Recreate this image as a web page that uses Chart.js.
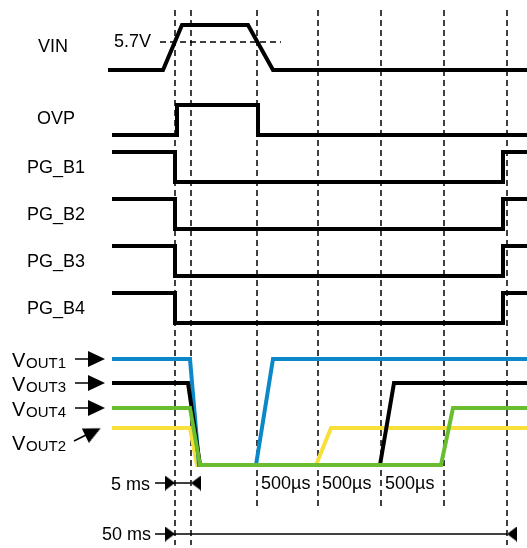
<!DOCTYPE html>
<html>
<head>
<meta charset="utf-8">
<script src="https://cdn.jsdelivr.net/npm/chart.js@4.4.1/dist/chart.umd.min.js"></script>
<style>
  html, body { margin: 0; padding: 0; background: #fff; }
  #wrap { width: 527px; height: 548px; }
</style>
</head>
<body>
<div id="wrap"><canvas id="timing" width="527" height="548"></canvas></div>
<script>
// time axis is schematic (same units as the drawing width)
const guideTimes = [175, 191, 257, 318, 381, 444, 507]
const longGuides = [175, 191, 507]

const vinTime = [108, 163, 182, 248, 273, 527]
const vinLevel = [0, 0, 1, 1, 0, 0]
const vinThreshold = 0.62
const ovpTime = [112, 177, 177, 258, 258, 527]
const ovpLevel = [0, 0, 1, 1, 0, 0]
const pgTime = [112, 175, 175, 503, 503, 527]
const pgLevel = [1, 1, 0, 0, 1, 1]

const vout1Time = [112, 190, 199, 256, 273, 527]
const vout3Time = [112, 188, 200, 380, 394, 527]
const vout4Time = [112, 190, 200, 441, 453, 527]
const vout2Time = [112, 190, 197, 316, 331, 527]
const voutLevel = [1, 1, 0, 0, 1, 1]

const pgLabels = ['PG_B1', 'PG_B2', 'PG_B3', 'PG_B4']
const voutNames = ['OUT1', 'OUT3', 'OUT4', 'OUT2']
const gapLabels = ['500µs', '500µs', '500µs']

// row layout: [low y, high y]
const rows = {
    vin: [70, 25],
    ovp: [135, 105],
    pg: [[182, 152], [229, 199], [276, 246], [323, 293]],
    vout: [[465, 359], [465, 383], [465, 408], [465, 428]]
}
const voutColors = ['#0a88c8', '#000000', '#69bd2f', '#f7e03a']

const toPts = (times, levels, row) => times.map((t, i) => ({x: t, y: row[0] + levels[i] * (row[1] - row[0])}))

function arrowHead(len, h) {
    const c = document.createElement('canvas')
    c.width = len; c.height = h
    const g = c.getContext('2d')
    g.fillStyle = '#000'
    g.beginPath()
    g.moveTo(0, 0); g.lineTo(len, h / 2); g.lineTo(0, h); g.closePath()
    g.fill()
    return c
}
const smallHead = arrowHead(10, 15)
const bigHead = arrowHead(17, 16)

const datasets = []
const sig = (data, color, order) => ({
    data: data, showLine: true, borderColor: color, borderWidth: 4,
    pointRadius: 0, tension: 0, borderJoinStyle: 'miter', borderCapStyle: 'butt', order: order
})
const thin = (data, dash, order) => ({
    data: data, showLine: true, borderColor: '#000', borderWidth: 1.5, borderDash: dash,
    pointRadius: 0, tension: 0, order: order
})
const head = (x, y, img, rot) => ({
    data: [{x: x, y: y}], showLine: false, pointStyle: img, rotation: rot,
    pointRadius: 8, borderWidth: 0, order: 0
})

// guides
guideTimes.forEach(t => {
    const bottom = longGuides.includes(t) ? 545 : 507
    datasets.push(thin([{x: t, y: 10}, {x: t, y: bottom}], [6, 4], 20))
})
datasets.push(thin([{x: 160, y: rows.vin[0] + vinThreshold * (rows.vin[1] - rows.vin[0])},
                    {x: 281, y: rows.vin[0] + vinThreshold * (rows.vin[1] - rows.vin[0])}], [6, 4], 20))

datasets.push(sig(toPts(vinTime, vinLevel, rows.vin), '#000', 5))
datasets.push(sig(toPts(ovpTime, ovpLevel, rows.ovp), '#000', 5))
rows.pg.forEach(r => datasets.push(sig(toPts(pgTime, pgLevel, r), '#000', 5)))

const voutTimes = [vout1Time, vout3Time, vout4Time, vout2Time]
const voutOrder = [8, 7, 4, 9]
voutTimes.forEach((t, i) => datasets.push(sig(toPts(t, voutLevel, rows.vout[i]), voutColors[i], voutOrder[i])))

// label arrows for VOUT
rows.vout.forEach((r, i) => {
    if (i < 3) {
        datasets.push(thin([{x: 75, y: r[1]}, {x: 95, y: r[1]}], [], 1))
        datasets.push(head(96.5, r[1], bigHead, 0))
    } else {
        datasets.push(thin([{x: 74, y: 441}, {x: 94, y: 431}], [], 1))
        datasets.push(head(93, 432, bigHead, -26))
    }
})

// 5 ms and 50 ms dimension arrows
datasets.push(thin([{x: 155, y: 483}, {x: 191, y: 483}], [], 1))
datasets.push(head(170, 483, smallHead, 0))
datasets.push(head(196, 483, smallHead, 180))
datasets.push(thin([{x: 155, y: 534}, {x: 507, y: 534}], [], 1))
datasets.push(head(170, 534, smallHead, 0))
datasets.push(head(512, 534, smallHead, 180))

const labelPlugin = {
    id: 'labels',
    afterDraw(chart) {
        const ctx = chart.ctx
        const xs = chart.scales.x, ys = chart.scales.y
        const txt = (s, x, y, size) => {
            ctx.font = size + 'px "Liberation Sans", Arial, sans-serif'
            ctx.fillText(s, xs.getPixelForValue(x), ys.getPixelForValue(y))
        }
        ctx.save()
        ctx.fillStyle = '#000'
        ctx.textBaseline = 'alphabetic'
        txt('VIN', 38, 52, 18)
        txt('5.7V', 114, 47, 18)
        txt('OVP', 37, 124, 18)
        pgLabels.forEach((s, i) => txt(s, 27, rows.pg[i][0] - 9, 18))
        const voutBase = [367, 391, 416, 450]
        voutNames.forEach((s, i) => {
            txt('V', 12, voutBase[i], 20)
            txt(s, 26, voutBase[i] + 1, 15)
        })
        txt('5 ms', 111, 490, 18)
        gapLabels.forEach((s, i) => txt(s, guideTimes[2 + i] + 4, 489, 18))
        txt('50 ms', 102, 540, 18)
        ctx.restore()
    }
}

new Chart(document.getElementById('timing'), {
    type: 'scatter',
    data: { datasets: datasets },
    options: {
        responsive: false,
        animation: false,
        layout: { padding: 0, autoPadding: false },
        plugins: { legend: { display: false }, tooltip: { enabled: false } },
        scales: {
            x: { type: 'linear', min: 0, max: 527, display: false },
            y: { type: 'linear', min: 0, max: 548, reverse: true, display: false }
        }
    },
    plugins: [labelPlugin]
})
</script>
</body>
</html>
